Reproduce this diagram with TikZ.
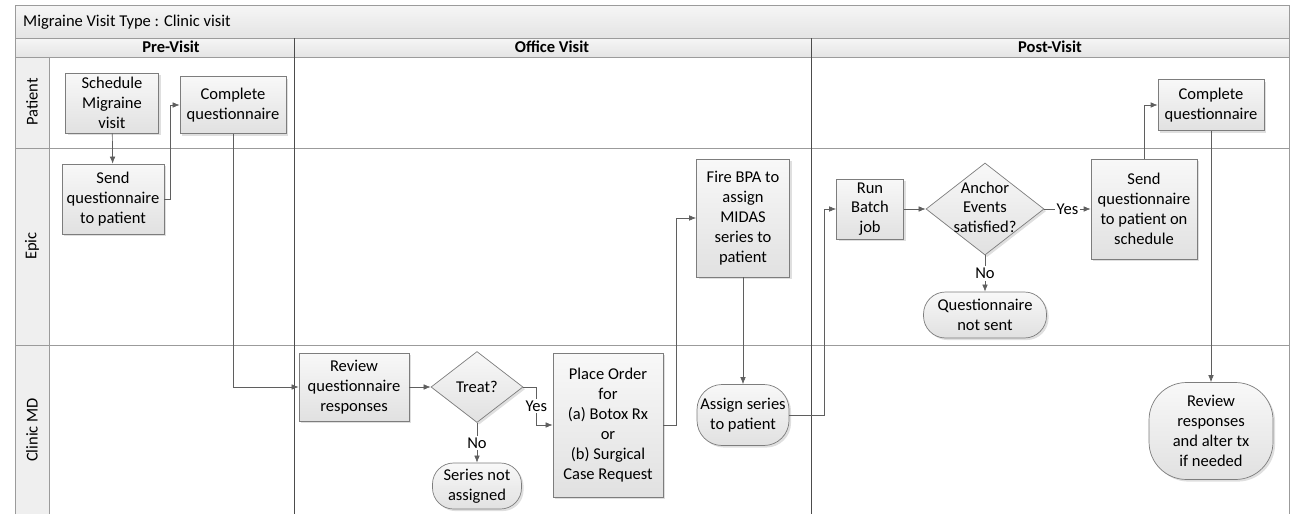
\documentclass[tikz,border=0pt]{standalone}
\usepackage{fontspec}
\setmainfont{Carlito}
\usetikzlibrary{shapes.geometric,arrows.meta,shadows}
\definecolor{laneline}{RGB}{155,155,155}
\definecolor{boxline}{RGB}{125,125,125}
\definecolor{boxtop}{RGB}{248,248,248}
\definecolor{boxbot}{RGB}{225,225,225}
\definecolor{bandtop}{RGB}{246,246,246}
\definecolor{bandbot}{RGB}{228,228,228}
\definecolor{flowline}{RGB}{95,95,95}
\tikzset{
  process/.style={draw=boxline, top color=boxtop, bottom color=boxbot, align=center,
    inner sep=0pt, drop shadow={shadow xshift=1.2pt, shadow yshift=-1.2pt, opacity=0.25}},
  terminal/.style={process, rounded corners=0.5cm},
  decision/.style={process, diamond, inner sep=0pt},
  flow/.style={draw=flowline, -{Latex[length=4pt,width=3.2pt]}},
  lbl/.style={fill=white, inner sep=1pt},
  lanetext/.style={rotate=90}
}
\begin{document}
\begin{tikzpicture}[x=0.02cm, y=-0.02cm, font=\fontsize{9.4}{11.3}\selectfont]
  \useasboundingbox (0,0) rectangle (1297,514);
  % bands and lanes
  \shade[top color=bandtop, bottom color=bandbot] (15,5) rectangle (1289,38);
  \shade[top color=bandtop, bottom color=bandbot] (15,38) rectangle (1289,57);
  \fill[bandbot!60!white] (15,57) rectangle (49,514);
  \draw[laneline] (15,514) -- (15,5) -- (1289,5) -- (1289,514);
  \draw[laneline] (15,38) -- (1289,38);
  \draw[laneline] (15,57) -- (1289,57);
  \draw[laneline] (15,148) -- (1289,148);
  \draw[laneline] (15,345) -- (1289,345);
  \draw[laneline] (49,57) -- (49,514);
  \draw[black!70] (294,38) -- (294,514);
  \draw[black!70] (811,38) -- (811,514);
  \node[anchor=west] (title) at (17,22) {Migraine Visit Type : Clinic visit};
  \node[font=\fontsize{9.4}{11.3}\selectfont\bfseries] (pre) at (171,47) {Pre-Visit};
  \node[font=\fontsize{9.4}{11.3}\selectfont\bfseries] (office) at (552,47) {Office Visit};
  \node[font=\fontsize{9.4}{11.3}\selectfont\bfseries] (post) at (1050,47) {Post-Visit};
  \node[lanetext] (lpatient) at (32,102) {Patient};
  \node[lanetext] (lepic) at (32,246) {Epic};
  \node[lanetext] (lclinic) at (32,430) {Clinic MD};

  % pre-visit
  \node[process, minimum width=1.86cm, minimum height=1.2cm] (sched) at (112,103) {Schedule\\Migraine\\visit};
  \node[process, minimum width=2.12cm, minimum height=1.14cm] (compq) at (233,105) {Complete\\questionnaire};
  \node[process, minimum width=2.04cm, minimum height=1.4cm] (sendq) at (113,199) {Send\\questionnaire\\to patient};

  % office visit
  \node[process, minimum width=2.2cm, minimum height=1.36cm] (revq) at (354,387) {Review\\questionnaire\\responses};
  \node[decision, minimum width=1.84cm, minimum height=1.42cm] (treat) at (477,387) {};
  \node (treattext) at (treat) {Treat?};
  \node[terminal, minimum width=1.78cm, minimum height=0.92cm, rounded corners=0.42cm] (notassigned) at (477,486) {Series not\\assigned};
  \node[process, minimum width=2.2cm, minimum height=2.88cm] (order) at (608,425) {Place Order\\for\\(a) Botox Rx\\or\\(b) Surgical\\Case Request};
  \node[process, minimum width=1.86cm, minimum height=2.36cm] (firebpa) at (743,218) {Fire BPA to\\assign\\MIDAS\\series to\\patient};
  \node[terminal, minimum width=1.84cm, minimum height=1.22cm] (assign) at (743,415) {Assign series\\to patient};

  % post-visit
  \node[process, minimum width=1.34cm, minimum height=1.2cm] (batch) at (870,209) {Run\\Batch\\job};
  \node[decision, minimum width=2.36cm, minimum height=1.84cm] (anchor) at (985,209) {};
  \node (anchortext) at (anchor) {\begin{tabular}{@{}c@{}}Anchor\\Events\\satisfied?\end{tabular}};
  \node[terminal, minimum width=2.46cm, minimum height=0.92cm, rounded corners=0.44cm] (notsent) at (985,315) {Questionnaire\\not sent};
  \node[process, minimum width=2.12cm, minimum height=2cm] (sendsched) at (1144,209) {Send\\questionnaire\\to patient on\\schedule};
  \node[process, minimum width=2.12cm, minimum height=1.02cm] (compq2) at (1211,105) {Complete\\questionnaire};
  \node[terminal, minimum width=2.48cm, minimum height=1.94cm, rounded corners=0.75cm] (review) at (1211,431) {Review\\responses\\and alter tx\\if needed};

  % connectors
  \draw[flow] (sched) -- (sendq);
  \draw[flow] (sendq.east) -- ++(6,0) |- (compq.west);
  \draw[flow] (compq.south) |- (revq.west);
  \draw[flow] (revq) -- (treat);
  \draw[flow] (treat.south) -- node[lbl] {No} (notassigned.north);
  \draw[flow] (treat.east) -- ++(13,0) |- node[lbl, pos=0.25] {Yes} (order.west);
  \draw[flow] (order.east) -- ++(13,0) |- (firebpa.west);
  \draw[flow] (firebpa) -- (assign);
  \draw[flow] (assign.east) -- ++(35,0) |- (batch.west);
  \draw[flow] (batch) -- (anchor);
  \draw[flow] (anchor.east) -- node[lbl] {Yes} (sendsched.west);
  \draw[flow] (anchor.south) -- node[lbl] {No} (notsent.north);
  \draw[flow] (sendsched.north) |- (compq2.west);
  \draw[flow] (compq2) -- (review);
\end{tikzpicture}
\end{document}
